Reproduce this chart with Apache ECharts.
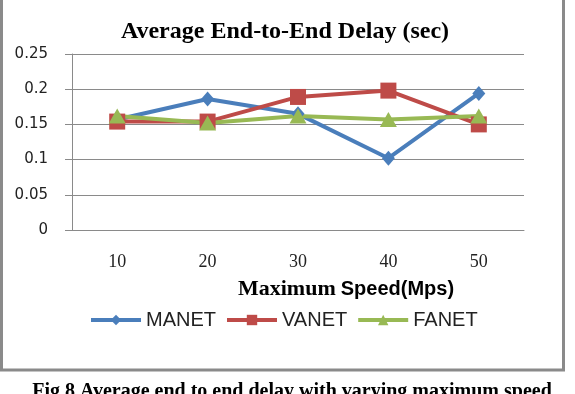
<!DOCTYPE html>
<html>
<head>
<meta charset="utf-8">
<script src="https://cdn.jsdelivr.net/npm/echarts@6/dist/echarts.min.js"></script>
<style>
  html, body { margin: 0; padding: 0; background: #fff; }
  #chart { width: 575px; height: 394px; }
</style>
</head>
<body>
<div id="chart"></div>
<script>
const speeds = ['10', '20', '30', '40', '50'];
const manet = [0.157, 0.186, 0.165, 0.102, 0.194];
const vanet = [0.154, 0.154, 0.189, 0.198, 0.150];
const fanet = [0.162, 0.152, 0.162, 0.157, 0.162];

const chart = echarts.init(document.getElementById('chart'));

const option = {
    animation: false,
    title: [
        {
            text: 'Average End-to-End Delay (sec)',
            left: 280,
            top: 15,
            textAlign: 'center',
            textStyle: { fontFamily: 'Liberation Serif', fontWeight: 'bold', fontSize: 24, color: '#000' }
        },
        {
            text: '{a|Maximum} {b|Speed(Mps)}',
            left: 341,
            top: 273,
            textAlign: 'center',
            textStyle: {
                rich: {
                    a: { fontFamily: 'Liberation Serif', fontWeight: 'bold', fontSize: 22, color: '#000' },
                    b: { fontFamily: 'Liberation Sans', fontWeight: 'bold', fontSize: 20, color: '#000' }
                }
            }
        },
        {
            text: 'Fig 8 Average end to end delay with varying maximum speed',
            left: 287,
            top: 377,
            textAlign: 'center',
            textStyle: { fontFamily: 'Liberation Serif', fontWeight: 'bold', fontSize: 20, color: '#000' }
        }
    ],
    graphic: [
        {
            type: 'rect',
            shape: { x: 1.5, y: -5, width: 562, height: 375 },
            style: { fill: 'none', stroke: '#8a8a8a', lineWidth: 3 }
        }
    ],
    legend: {
        data: ['MANET', 'VANET', 'FANET'],
        left: 84,
        top: 305,
        itemWidth: 50,
        itemHeight: 13,
        itemGap: 9,
        lineStyle: { width: 4 },
        textStyle: { fontFamily: 'Liberation Sans', fontSize: 20, color: '#222' }
    },
    grid: { left: 72, right: 51, top: 54, bottom: 164 },
    xAxis: {
        type: 'category',
        data: speeds,
        boundaryGap: true,
        axisLine: { lineStyle: { color: '#8a8a8a' } },
        axisTick: { show: false },
        axisLabel: { margin: 23, fontFamily: 'Liberation Serif', fontSize: 18, color: '#222' }
    },
    yAxis: {
        type: 'value',
        min: 0,
        max: 0.25,
        interval: 0.05,
        axisLine: { show: true, lineStyle: { color: '#8a8a8a' } },
        axisTick: { show: true, inside: false, length: 7, lineStyle: { color: '#8a8a8a' } },
        splitLine: { lineStyle: { color: '#8a8a8a' } },
        axisLabel: { margin: 24, fontFamily: 'DejaVu Sans', fontSize: 15, color: '#222' }
    },
    series: [
        {
            name: 'MANET',
            type: 'line',
            data: manet,
            symbol: 'diamond',
            symbolSize: [13, 15],
            color: '#4a7ebb',
            lineStyle: { width: 4 }
        },
        {
            name: 'VANET',
            type: 'line',
            data: vanet,
            symbol: 'rect',
            symbolSize: 16,
            color: '#be4b48',
            lineStyle: { width: 4 }
        },
        {
            name: 'FANET',
            type: 'line',
            data: fanet,
            symbol: 'triangle',
            symbolSize: [17, 15],
            color: '#98b954',
            lineStyle: { width: 4 }
        }
    ]
};

chart.setOption(option);
</script>
</body>
</html>
